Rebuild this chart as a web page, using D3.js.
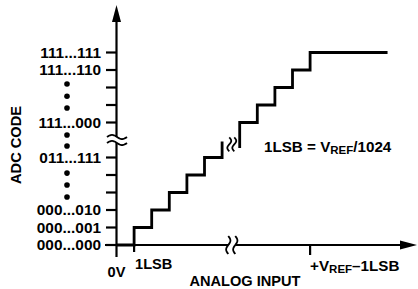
<!DOCTYPE html>
<html><head><meta charset="utf-8">
<script src="https://cdn.jsdelivr.net/npm/d3@7"></script>
<style>
html,body{margin:0;padding:0;background:#fff;}
text{font-family:"Liberation Sans",Arial,Helvetica,sans-serif;font-weight:bold;fill:#000;}
</style></head>
<body><svg id="c" width="418" height="289"></svg>
<script>
// ---- data ----
const yTickLevels = [0,1,2,3,4,5,7,8,9,10,11];
const yLabelLevels = [0,1,2,5,7,10,11];
const yLabelTexts = ["000...000","000...001","000...010","011...111","111...000","111...110","111...111"];
const dotLevels = [9.2,8.5,7.83,6.29,5.66,4.11,3.43,2.74];
const lowStepInputs = [1,2,3,4,5,6];
const lowStepCodes = [1,2,3,4,5,5.92];
const highStepInputs = [7,8,9,10,11];
const highStepCodes = [7,8,9,10,11];
const highStartCode = 5.55;
const endInput = 15.4;
const xTickInputs = [1,11];
const xTickLabels = ["1LSB","+V|REF|–1LSB"];
const breakInput = 6.55, breakLevel = 6;

const FS = 14.6, FSY = 15.4, FSA = 15.2, SUB = 11.5;
const svg = d3.select("#c");
const x = d3.scaleLinear().domain([0,1]).range([116.5,134.1]);
const y = d3.scaleLinear().domain([0,1]).range([245,227.5]);

const X0 = x(0), Y0 = y(0);
const bx = x(breakInput), by = y(breakLevel);

const g = svg.append("g").attr("stroke","#000").attr("fill","none");
// y axis
g.append("line").attr("x1",X0).attr("x2",X0).attr("y1",257).attr("y2",by+3).attr("stroke-width",2.2);
g.append("line").attr("x1",X0).attr("x2",X0).attr("y1",by-3).attr("y2",20).attr("stroke-width",2.2);
svg.append("path").attr("d",`M${X0},5 L${X0-4.5},22 L${X0+4.5},22 Z`).attr("fill","#000");
// x axis
g.append("line").attr("x1",105).attr("x2",bx-3.5).attr("y1",Y0).attr("y2",Y0).attr("stroke-width",2.2);
g.append("line").attr("x1",bx+3.5).attr("x2",402).attr("y1",Y0).attr("y2",Y0).attr("stroke-width",2.2);
svg.append("path").attr("d",`M417,${Y0} L400,${Y0-4.5} L400,${Y0+4.5} Z`).attr("fill","#000");

// y ticks
g.selectAll(".yt").data(yTickLevels).join("line")
  .attr("x1",106).attr("x2",X0).attr("y1",d=>y(d)).attr("y2",d=>y(d)).attr("stroke-width",2.2);
// x ticks
g.selectAll(".xt").data(xTickInputs).join("line")
  .attr("x1",d=>x(d)).attr("x2",d=>x(d)).attr("y1",Y0).attr("y2",d=>d===1?252:255).attr("stroke-width",2.2);

// y labels
svg.selectAll(".yl").data(yLabelLevels).join("text")
  .attr("x",101).attr("y",d=>y(d)+5.2).attr("text-anchor","end")
  .attr("font-size",FSY).text((d,i)=>yLabelTexts[i]);
// dots
svg.selectAll(".dot").data(dotLevels).join("circle")
  .attr("cx",67).attr("cy",d=>y(d)).attr("r",2.8).attr("fill","#000");

// staircase
const lowPts = [[0,0]];
lowStepInputs.forEach((xi,i)=>{ const prev = i===0?0:lowStepCodes[i-1]; lowPts.push([xi,prev]); lowPts.push([xi,lowStepCodes[i]]); });
const highPts = [[highStepInputs[0],highStartCode]];
highStepInputs.forEach((xi,i)=>{ if(i>0) highPts.push([xi,highStepCodes[i-1]]); highPts.push([xi,highStepCodes[i]]); });
highPts.push([endInput,highStepCodes[highStepCodes.length-1]]);
const line = d3.line().x(d=>x(d[0])).y(d=>y(d[1]));
g.append("path").attr("d",line(lowPts)).attr("stroke-width",2.8).attr("stroke-linejoin","miter");
g.append("path").attr("d",line(highPts)).attr("stroke-width",2.8).attr("stroke-linejoin","miter");

// break squiggles
const wave = d3.line().curve(d3.curveBasis);
function vWave(cx,y1,y2,amp){
  const pts=[]; const n=16;
  for(let i=0;i<=n;i++){const t=i/n; pts.push([cx+amp*Math.sin(t*2*Math.PI), y1+(y2-y1)*t]);}
  return wave(pts);
}
function hWave(cy,x1,x2,amp){
  const pts=[]; const n=16;
  for(let i=0;i<=n;i++){const t=i/n; pts.push([x1+(x2-x1)*t, cy-amp*Math.sin(t*2*Math.PI)]);}
  return wave(pts);
}
g.append("path").attr("d",hWave(by-3,107,127,2.2)).attr("stroke-width",1.8);
g.append("path").attr("d",hWave(by+3,107,127,2.2)).attr("stroke-width",1.8);
g.append("path").attr("d",vWave(bx-3.5,Y0-9,Y0+9,2.2)).attr("stroke-width",1.8);
g.append("path").attr("d",vWave(bx+3.5,Y0-9,Y0+9,2.2)).attr("stroke-width",1.8);
const sx = x(6.55), sy = y(5.75);
g.append("path").attr("d",vWave(sx-2.5,sy-7,sy+7,2)).attr("stroke-width",1.8);
g.append("path").attr("d",vWave(sx+2.5,sy-7,sy+7,2)).attr("stroke-width",1.8);

// x labels
svg.append("text").attr("x",X0).attr("y",277).attr("text-anchor","middle").attr("font-size",FS).text("0V");
svg.append("text").attr("x",x(1)+1).attr("y",269).attr("font-size",FS).text(xTickLabels[0]);
const parts = xTickLabels[1].split("|");
const vt = svg.append("text").attr("x",x(11)).attr("y",271).attr("font-size",FSA);
vt.append("tspan").text(parts[0]);
vt.append("tspan").attr("font-size",SUB).attr("dy",2).text(parts[1]);
vt.append("tspan").attr("dy",-2).text(parts[2]);

svg.append("text").attr("x",245).attr("y",286).attr("text-anchor","middle").attr("font-size",FS).text("ANALOG INPUT");
const an = svg.append("text").attr("x",264).attr("y",152).attr("font-size",FSA);
an.append("tspan").text("1LSB = V");
an.append("tspan").attr("font-size",SUB).attr("dy",2).text("REF");
an.append("tspan").attr("dy",-2).text("/1024");
svg.append("text").attr("transform","translate(21,145) rotate(-90)").attr("text-anchor","middle").attr("font-size",FS).text("ADC CODE");
</script></body></html>
